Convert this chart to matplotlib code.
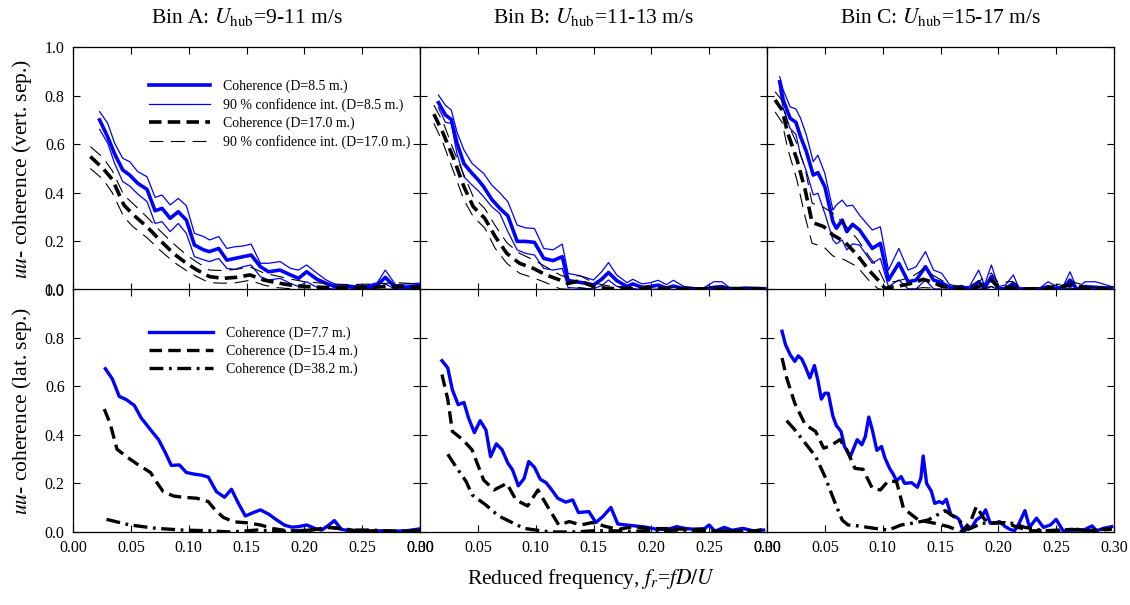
import numpy as np
import matplotlib.pyplot as plt

plt.rcParams['font.family'] = ['Liberation Serif', 'DejaVu Serif']
plt.rcParams['mathtext.fontset'] = 'stix'
plt.rcParams['lines.scale_dashes'] = False

# ---- top row: vertical separation (D=8.5 m and D=17.0 m) ----
# Bin A
a_f85 = [0.023, 0.030, 0.036, 0.043, 0.049, 0.056, 0.064, 0.071, 0.077, 0.084, 0.091, 0.098,
         0.105, 0.113, 0.118, 0.126, 0.133, 0.140, 0.147, 0.154, 0.162, 0.169, 0.179, 0.188,
         0.195, 0.202, 0.211, 0.219, 0.228, 0.237, 0.245, 0.254, 0.263, 0.270, 0.279, 0.288, 0.300]
a_c85 = [0.700, 0.630, 0.560, 0.494, 0.473, 0.439, 0.414, 0.326, 0.336, 0.295, 0.322, 0.288,
         0.185, 0.165, 0.158, 0.171, 0.123, 0.130, 0.137, 0.144, 0.096, 0.075, 0.082, 0.062,
         0.048, 0.075, 0.044, 0.027, 0.011, 0.015, 0.010, 0.010, 0.020, 0.052, 0.010, 0.012, 0.020]
a_hi85 = [0.734, 0.686, 0.604, 0.542, 0.528, 0.487, 0.466, 0.381, 0.391, 0.350, 0.377, 0.347,
          0.233, 0.220, 0.206, 0.220, 0.171, 0.178, 0.181, 0.189, 0.110, 0.110, 0.117, 0.089,
          0.082, 0.103, 0.069, 0.041, 0.021, 0.021, 0.017, 0.019, 0.030, 0.082, 0.021, 0.025, 0.028]
a_lo85 = [0.661, 0.604, 0.521, 0.446, 0.428, 0.395, 0.364, 0.274, 0.281, 0.240, 0.274, 0.233,
          0.137, 0.124, 0.117, 0.130, 0.089, 0.085, 0.096, 0.103, 0.055, 0.041, 0.048, 0.027,
          0.014, 0.034, 0.011, 0.007, 0.003, 0.004, 0.003, 0.003, 0.008, 0.025, 0.003, 0.004, 0.008]
a_f17 = [0.015, 0.026, 0.034, 0.044, 0.052, 0.064, 0.075, 0.087, 0.098, 0.107, 0.118, 0.130,
         0.141, 0.153, 0.165, 0.176, 0.188, 0.199, 0.211, 0.222, 0.240, 0.260, 0.280, 0.300]
a_c17 = [0.549, 0.500, 0.455, 0.350, 0.310, 0.260, 0.206, 0.150, 0.110, 0.083, 0.055, 0.048,
         0.052, 0.062, 0.041, 0.030, 0.020, 0.015, 0.012, 0.010, 0.010, 0.012, 0.015, 0.012]
a_hi17 = [0.590, 0.545, 0.490, 0.390, 0.355, 0.300, 0.245, 0.190, 0.145, 0.115, 0.082, 0.080,
          0.085, 0.095, 0.070, 0.058, 0.045, 0.035, 0.030, 0.025, 0.022, 0.025, 0.030, 0.025]
a_lo17 = [0.500, 0.455, 0.400, 0.300, 0.260, 0.215, 0.165, 0.115, 0.080, 0.055, 0.030, 0.028,
          0.030, 0.040, 0.020, 0.010, 0.005, 0.003, 0.002, 0.002, 0.002, 0.003, 0.004, 0.003]

# Bin B
b_f85 = [0.016, 0.022, 0.027, 0.032, 0.038, 0.045, 0.050, 0.055, 0.062, 0.069, 0.076, 0.084,
         0.091, 0.099, 0.107, 0.115, 0.123, 0.128, 0.135, 0.143, 0.150, 0.157, 0.163, 0.170,
         0.179, 0.184, 0.192, 0.199, 0.206, 0.213, 0.219, 0.228, 0.236, 0.245, 0.254, 0.261,
         0.268, 0.281, 0.298]
b_c85 = [0.771, 0.720, 0.702, 0.604, 0.520, 0.480, 0.455, 0.425, 0.373, 0.336, 0.305, 0.200,
         0.200, 0.196, 0.130, 0.121, 0.137, 0.039, 0.034, 0.028, 0.021, 0.044, 0.072, 0.039,
         0.014, 0.025, 0.011, 0.014, 0.020, 0.008, 0.016, 0.006, 0.005, 0.003, 0.011, 0.014,
         0.004, 0.006, 0.005]
b_hi85 = [0.802, 0.760, 0.741, 0.650, 0.576, 0.521, 0.500, 0.480, 0.432, 0.400, 0.363, 0.267,
          0.256, 0.253, 0.171, 0.165, 0.189, 0.068, 0.062, 0.052, 0.041, 0.075, 0.113, 0.062,
          0.030, 0.044, 0.025, 0.030, 0.040, 0.022, 0.040, 0.015, 0.010, 0.008, 0.034, 0.034,
          0.008, 0.012, 0.010]
b_lo85 = [0.750, 0.690, 0.686, 0.560, 0.466, 0.432, 0.410, 0.384, 0.343, 0.315, 0.240, 0.165,
          0.151, 0.144, 0.089, 0.082, 0.089, 0.010, 0.008, 0.006, 0.005, 0.018, 0.041, 0.015,
          0.002, 0.006, 0.002, 0.002, 0.004, 0.001, 0.002, 0.001, 0.001, 0.001, 0.002, 0.003,
          0.001, 0.001, 0.001]
b_f17 = [0.012, 0.020, 0.029, 0.038, 0.046, 0.056, 0.065, 0.075, 0.086, 0.098, 0.109, 0.121,
         0.128, 0.138, 0.150, 0.161, 0.180, 0.200, 0.220, 0.240, 0.260, 0.280, 0.300]
b_c17 = [0.724, 0.645, 0.542, 0.425, 0.343, 0.295, 0.220, 0.151, 0.110, 0.089, 0.062, 0.041,
         0.027, 0.038, 0.014, 0.007, 0.005, 0.006, 0.005, 0.004, 0.006, 0.005, 0.005]
b_hi17 = [0.761, 0.690, 0.576, 0.473, 0.384, 0.335, 0.265, 0.195, 0.151, 0.124, 0.095, 0.062,
          0.050, 0.060, 0.030, 0.018, 0.012, 0.014, 0.012, 0.010, 0.012, 0.010, 0.010]
b_lo17 = [0.686, 0.604, 0.487, 0.370, 0.302, 0.255, 0.171, 0.110, 0.069, 0.050, 0.030, 0.005,
          0.003, 0.010, 0.002, 0.001, 0.001, 0.001, 0.001, 0.001, 0.001, 0.001, 0.001]

# Bin C
c_f85 = [0.011, 0.014, 0.020, 0.025, 0.029, 0.034, 0.040, 0.044, 0.050, 0.057, 0.060, 0.065,
         0.069, 0.074, 0.080, 0.091, 0.098, 0.105, 0.114, 0.122, 0.129, 0.137, 0.144, 0.151,
         0.159, 0.168, 0.175, 0.183, 0.188, 0.194, 0.200, 0.206, 0.213, 0.218, 0.227, 0.235,
         0.243, 0.250, 0.256, 0.262, 0.268, 0.275, 0.284, 0.298]
c_c85 = [0.857, 0.782, 0.707, 0.690, 0.631, 0.570, 0.473, 0.483, 0.425, 0.281, 0.254, 0.288,
         0.240, 0.270, 0.247, 0.171, 0.192, 0.041, 0.110, 0.034, 0.041, 0.096, 0.041, 0.030,
         0.007, 0.014, 0.003, 0.034, 0.007, 0.055, 0.005, 0.005, 0.027, 0.005, 0.003, 0.003,
         0.014, 0.005, 0.005, 0.041, 0.003, 0.014, 0.011, 0.007]
c_hi85 = [0.878, 0.823, 0.754, 0.745, 0.707, 0.638, 0.528, 0.555, 0.480, 0.329, 0.350, 0.370,
          0.345, 0.349, 0.308, 0.247, 0.260, 0.082, 0.171, 0.082, 0.096, 0.158, 0.082, 0.069,
          0.014, 0.014, 0.014, 0.082, 0.020, 0.103, 0.014, 0.020, 0.062, 0.005, 0.005, 0.005,
          0.034, 0.015, 0.015, 0.075, 0.005, 0.034, 0.034, 0.014]
c_lo85 = [0.823, 0.748, 0.665, 0.640, 0.555, 0.490, 0.391, 0.398, 0.315, 0.206, 0.190, 0.206,
          0.165, 0.190, 0.185, 0.110, 0.130, 0.014, 0.041, 0.005, 0.005, 0.041, 0.005, 0.003,
          0.001, 0.001, 0.001, 0.005, 0.001, 0.014, 0.001, 0.001, 0.005, 0.001, 0.001, 0.001,
          0.002, 0.001, 0.001, 0.010, 0.001, 0.002, 0.002, 0.001]
c_f17 = [0.007, 0.013, 0.018, 0.026, 0.033, 0.039, 0.049, 0.057, 0.067, 0.078, 0.088, 0.096,
         0.102, 0.111, 0.119, 0.127, 0.135, 0.142, 0.151, 0.160, 0.172, 0.183, 0.194, 0.200,
         0.212, 0.220, 0.240, 0.263, 0.280, 0.300]
c_c17 = [0.782, 0.741, 0.645, 0.535, 0.412, 0.278, 0.261, 0.226, 0.199, 0.144, 0.082, 0.041,
         0.007, 0.014, 0.021, 0.030, 0.044, 0.034, 0.016, 0.007, 0.003, 0.014, 0.041, 0.010,
         0.012, 0.003, 0.004, 0.021, 0.005, 0.006]
c_hi17 = [0.816, 0.780, 0.686, 0.600, 0.500, 0.357, 0.340, 0.316, 0.270, 0.210, 0.140, 0.090,
          0.030, 0.035, 0.045, 0.060, 0.085, 0.065, 0.040, 0.020, 0.010, 0.035, 0.070, 0.030,
          0.035, 0.010, 0.010, 0.035, 0.012, 0.014]
c_lo17 = [0.733, 0.690, 0.580, 0.450, 0.300, 0.192, 0.178, 0.140, 0.124, 0.096, 0.040, 0.005,
          0.001, 0.001, 0.002, 0.005, 0.010, 0.008, 0.002, 0.001, 0.001, 0.002, 0.015, 0.001,
          0.001, 0.001, 0.001, 0.005, 0.001, 0.001]

# ---- bottom row: lateral separation (D=7.7, 15.4, 38.2 m) ----
la_f77 = [0.028, 0.034, 0.040, 0.046, 0.053, 0.059, 0.067, 0.074, 0.080, 0.085, 0.092, 0.098,
          0.105, 0.111, 0.117, 0.124, 0.131, 0.137, 0.143, 0.149, 0.156, 0.162, 0.169, 0.176,
          0.183, 0.189, 0.195, 0.202, 0.209, 0.215, 0.221, 0.226, 0.232, 0.239, 0.248, 0.258,
          0.268, 0.278, 0.290, 0.300]
la_c77 = [0.672, 0.630, 0.558, 0.545, 0.521, 0.469, 0.421, 0.380, 0.325, 0.274, 0.276, 0.245,
          0.238, 0.234, 0.226, 0.166, 0.143, 0.176, 0.118, 0.066, 0.080, 0.091, 0.074, 0.050,
          0.028, 0.020, 0.022, 0.029, 0.015, 0.008, 0.028, 0.047, 0.011, 0.005, 0.003, 0.004,
          0.005, 0.003, 0.006, 0.013]
la_f154 = [0.027, 0.032, 0.038, 0.046, 0.055, 0.067, 0.072, 0.078, 0.087, 0.095, 0.107, 0.117,
           0.123, 0.130, 0.139, 0.150, 0.162, 0.173, 0.185, 0.195, 0.205, 0.222, 0.234, 0.248,
           0.265, 0.288, 0.300]
la_c154 = [0.506, 0.448, 0.341, 0.311, 0.281, 0.245, 0.207, 0.166, 0.148, 0.143, 0.139, 0.125,
           0.090, 0.060, 0.042, 0.038, 0.029, 0.014, 0.005, 0.005, 0.007, 0.019, 0.013, 0.003,
           0.005, 0.002, 0.011]
la_f382 = [0.029, 0.049, 0.072, 0.095, 0.118, 0.136, 0.159, 0.182, 0.205, 0.222, 0.240, 0.258,
           0.276, 0.300]
la_c382 = [0.052, 0.029, 0.015, 0.008, 0.005, 0.000, 0.008, 0.002, 0.008, 0.019, 0.008, 0.008,
           0.003, 0.006]

lb_f77 = [0.019, 0.024, 0.028, 0.033, 0.038, 0.042, 0.047, 0.052, 0.057, 0.061, 0.066, 0.071,
          0.076, 0.080, 0.085, 0.090, 0.094, 0.099, 0.104, 0.109, 0.114, 0.119, 0.126, 0.132,
          0.137, 0.146, 0.152, 0.158, 0.165, 0.171, 0.178, 0.186, 0.195, 0.205, 0.214, 0.222,
          0.230, 0.238, 0.246, 0.250, 0.255, 0.263, 0.270, 0.279, 0.288, 0.297]
lb_c77 = [0.705, 0.675, 0.585, 0.524, 0.533, 0.469, 0.409, 0.458, 0.420, 0.310, 0.363, 0.338,
          0.283, 0.256, 0.190, 0.220, 0.290, 0.266, 0.217, 0.203, 0.173, 0.139, 0.123, 0.132,
          0.080, 0.084, 0.039, 0.063, 0.101, 0.033, 0.029, 0.025, 0.020, 0.011, 0.011, 0.022,
          0.014, 0.011, 0.014, 0.029, 0.003, 0.019, 0.007, 0.015, 0.005, 0.008]
lb_f154 = [0.019, 0.024, 0.028, 0.037, 0.045, 0.055, 0.064, 0.075, 0.083, 0.093, 0.102, 0.110,
           0.120, 0.129, 0.139, 0.149, 0.161, 0.172, 0.184, 0.195, 0.207, 0.218, 0.230, 0.242,
           0.253, 0.265, 0.276, 0.288, 0.298]
lb_c154 = [0.648, 0.546, 0.414, 0.380, 0.338, 0.214, 0.173, 0.200, 0.132, 0.107, 0.173, 0.107,
           0.029, 0.043, 0.029, 0.039, 0.022, 0.011, 0.022, 0.015, 0.014, 0.014, 0.011, 0.011,
           0.003, 0.005, 0.003, 0.003, 0.011]
lb_f382 = [0.024, 0.031, 0.040, 0.045, 0.057, 0.068, 0.080, 0.090, 0.100, 0.114, 0.126, 0.137,
           0.149, 0.166, 0.184, 0.201, 0.224, 0.247, 0.270, 0.298]
lb_c382 = [0.320, 0.269, 0.207, 0.153, 0.111, 0.066, 0.038, 0.015, 0.008, 0.000, 0.000, 0.001,
           0.005, 0.005, 0.003, 0.005, 0.008, 0.005, 0.003, 0.005]

lc_f77 = [0.013, 0.016, 0.020, 0.024, 0.027, 0.030, 0.033, 0.037, 0.041, 0.044, 0.047, 0.050,
          0.053, 0.057, 0.060, 0.064, 0.067, 0.072, 0.078, 0.082, 0.085, 0.088, 0.091, 0.095,
          0.099, 0.102, 0.106, 0.109, 0.112, 0.116, 0.119, 0.125, 0.130, 0.133, 0.135, 0.138,
          0.142, 0.145, 0.149, 0.152, 0.155, 0.159, 0.163, 0.166, 0.170, 0.174, 0.177, 0.181,
          0.186, 0.189, 0.193, 0.197, 0.201, 0.206, 0.210, 0.214, 0.218, 0.223, 0.227, 0.233,
          0.239, 0.245, 0.250, 0.256, 0.262, 0.268, 0.274, 0.281, 0.285, 0.291, 0.298]
lc_c77 = [0.826, 0.771, 0.730, 0.702, 0.725, 0.712, 0.682, 0.634, 0.685, 0.624, 0.547, 0.571,
          0.571, 0.476, 0.438, 0.414, 0.352, 0.310, 0.380, 0.359, 0.393, 0.473, 0.421, 0.336,
          0.352, 0.304, 0.262, 0.239, 0.211, 0.228, 0.200, 0.203, 0.184, 0.221, 0.313, 0.200,
          0.169, 0.118, 0.125, 0.118, 0.135, 0.070, 0.063, 0.052, 0.000, 0.022, 0.018, 0.050,
          0.066, 0.091, 0.036, 0.036, 0.043, 0.022, 0.011, 0.005, 0.036, 0.088, 0.019, 0.057,
          0.019, 0.029, 0.052, 0.005, 0.005, 0.011, 0.008, 0.025, 0.005, 0.015, 0.022]
lc_f154 = [0.013, 0.017, 0.024, 0.033, 0.042, 0.049, 0.055, 0.063, 0.069, 0.076, 0.083, 0.091,
           0.098, 0.105, 0.112, 0.118, 0.131, 0.145, 0.157, 0.168, 0.176, 0.181, 0.188, 0.196,
           0.206, 0.217, 0.229, 0.240, 0.252, 0.263, 0.275, 0.287, 0.298]
lc_c154 = [0.716, 0.634, 0.530, 0.442, 0.414, 0.345, 0.355, 0.380, 0.338, 0.262, 0.258, 0.180,
           0.173, 0.211, 0.207, 0.097, 0.049, 0.036, 0.022, 0.000, 0.043, 0.105, 0.052, 0.038,
           0.038, 0.019, 0.005, 0.005, 0.005, 0.011, 0.005, 0.008, 0.011]
lc_f382 = [0.017, 0.024, 0.033, 0.042, 0.050, 0.059, 0.065, 0.070, 0.079, 0.093, 0.105, 0.116,
           0.128, 0.139, 0.154, 0.165, 0.174, 0.186, 0.197, 0.212, 0.223, 0.240, 0.263, 0.280,
           0.298]
lc_c382 = [0.458, 0.421, 0.366, 0.311, 0.229, 0.118, 0.049, 0.029, 0.025, 0.015, 0.008, 0.029,
           0.038, 0.049, 0.088, 0.052, 0.011, 0.036, 0.038, 0.036, 0.019, 0.005, 0.011, 0.005,
           0.015]

titles = ['Bin A: $U_{\\mathrm{hub}}$=9-11 m/s',
          'Bin B: $U_{\\mathrm{hub}}$=11-13 m/s',
          'Bin C: $U_{\\mathrm{hub}}$=15-17 m/s']

blue = '#0000ff'
thick_dash = (0, (9, 4.5))
thin_dash = (0, (10, 5.5))
dash_dot = (0, (10, 4, 2, 4))

fig = plt.figure(figsize=(11.3, 6.05), dpi=100)
L, W = 73 / 1130, 347 / 1130
H = 243 / 605
top_row = []
bot_row = []
for i in range(3):
    top_row.append(fig.add_axes([L + i * W, 1 - 290 / 605, W, H]))
    bot_row.append(fig.add_axes([L + i * W, 1 - 532 / 605, W, H]))

vert = [(a_f85, a_c85, a_hi85, a_lo85, a_f17, a_c17, a_hi17, a_lo17),
        (b_f85, b_c85, b_hi85, b_lo85, b_f17, b_c17, b_hi17, b_lo17),
        (c_f85, c_c85, c_hi85, c_lo85, c_f17, c_c17, c_hi17, c_lo17)]
lat = [(la_f77, la_c77, la_f154, la_c154, la_f382, la_c382),
       (lb_f77, lb_c77, lb_f154, lb_c154, lb_f382, lb_c382),
       (lc_f77, lc_c77, lc_f154, lc_c154, lc_f382, lc_c382)]

for i, ax in enumerate(top_row):
    f1, c1, h1, l1, f2, c2, h2, l2 = vert[i]
    ax.plot(f1, c1, color=blue, lw=2.6, label='Coherence (D=8.5 m.)')
    ax.plot(f1, h1, color=blue, lw=0.9, label='90 % confidence int. (D=8.5 m.)')
    ax.plot(f1, l1, color=blue, lw=0.9)
    ax.plot(f2, c2, color='black', lw=2.6, ls=thick_dash, label='Coherence (D=17.0 m.)')
    ax.plot(f2, h2, color='black', lw=0.8, ls=thin_dash, label='90 % confidence int. (D=17.0 m.)')
    ax.plot(f2, l2, color='black', lw=0.8, ls=thin_dash)
    ax.set_title(titles[i], fontsize=15.5, pad=17)

for i, ax in enumerate(bot_row):
    f1, c1, f2, c2, f3, c3 = lat[i]
    ax.plot(f1, c1, color=blue, lw=2.4, label='Coherence (D=7.7 m.)')
    ax.plot(f2, c2, color='black', lw=2.4, ls=thick_dash, label='Coherence (D=15.4 m.)')
    ax.plot(f3, c3, color='black', lw=2.4, ls=dash_dot, label='Coherence (D=38.2 m.)')

for ax in top_row + bot_row:
    ax.set_xlim(0, 0.30)
    ax.set_ylim(0, 1.0)
    ax.set_xticks(np.arange(0, 0.301, 0.05))
    ax.set_yticks(np.arange(0, 1.01, 0.2))
    ax.tick_params(direction='in', top=True, right=True, length=5, width=0.8,
                   labelsize=11.5, pad=6)
    ax.xaxis.set_major_formatter(plt.FormatStrFormatter('%.2f'))
    ax.yaxis.set_major_formatter(plt.FormatStrFormatter('%.1f'))
    for s in ax.spines.values():
        s.set_linewidth(0.9)
    if ax in top_row:
        ax.tick_params(labelbottom=False)
    if ax not in (top_row[0], bot_row[0]):
        ax.tick_params(labelleft=False)

top_row[0].legend(loc='upper left', bbox_to_anchor=(0.2, 0.895), frameon=False,
                  fontsize=10, handlelength=4.4, labelspacing=0.35, handletextpad=0.9,
                  borderpad=0)
bot_row[0].legend(loc='upper left', bbox_to_anchor=(0.2, 0.875), frameon=False,
                  fontsize=10, handlelength=4.6, labelspacing=0.35, handletextpad=0.9,
                  borderpad=0)

top_row[0].set_ylabel('$uu$- coherence (vert. sep.)', fontsize=15.5, labelpad=8)
bot_row[0].set_ylabel('$uu$- coherence (lat. sep.)', fontsize=15.5, labelpad=8)
fig.text(0.523, 0.035, 'Reduced frequency, $f_r$=$fD/U$', ha='center', fontsize=15.5)

fig.savefig('out.png', dpi=100)
